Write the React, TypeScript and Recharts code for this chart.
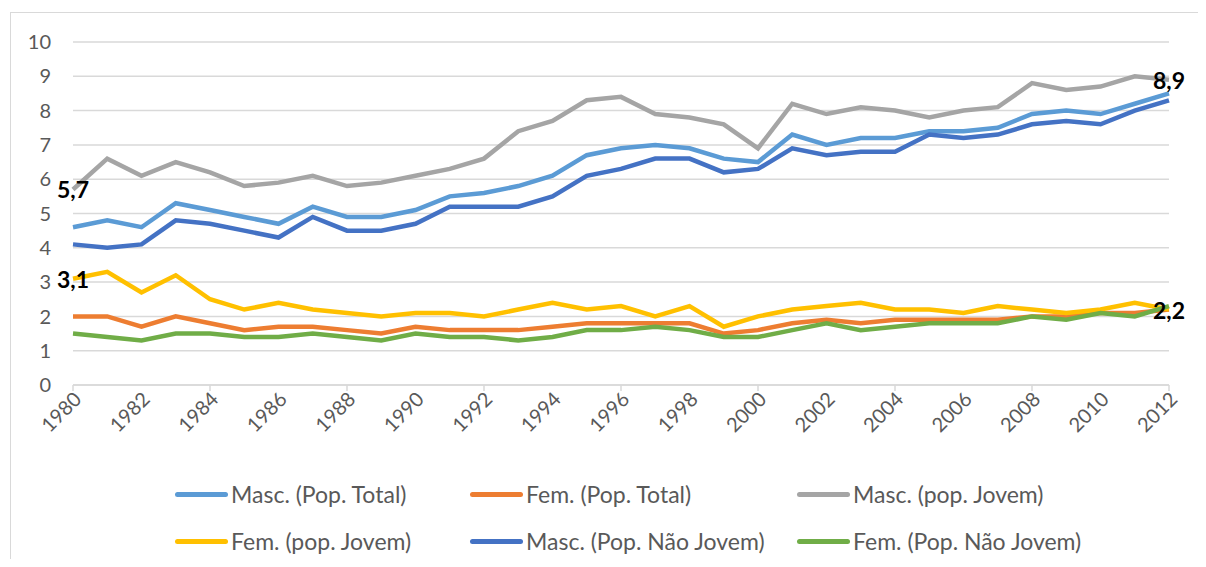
import React from "react";
import { LineChart, Line, XAxis, YAxis, CartesianGrid, Legend, LabelList } from "recharts";

const years = [
  1980, 1981, 1982, 1983, 1984, 1985, 1986, 1987, 1988, 1989,
  1990, 1991, 1992, 1993, 1994, 1995, 1996, 1997, 1998, 1999,
  2000, 2001, 2002, 2003, 2004, 2005, 2006, 2007, 2008, 2009,
  2010, 2011, 2012,
];

const mascTotal = [
  4.6, 4.8, 4.6, 5.3, 5.1, 4.9, 4.7, 5.2, 4.9, 4.9,
  5.1, 5.5, 5.6, 5.8, 6.1, 6.7, 6.9, 7.0, 6.9, 6.6,
  6.5, 7.3, 7.0, 7.2, 7.2, 7.4, 7.4, 7.5, 7.9, 8.0,
  7.9, 8.2, 8.5,
];
const femTotal = [
  2.0, 2.0, 1.7, 2.0, 1.8, 1.6, 1.7, 1.7, 1.6, 1.5,
  1.7, 1.6, 1.6, 1.6, 1.7, 1.8, 1.8, 1.8, 1.8, 1.5,
  1.6, 1.8, 1.9, 1.8, 1.9, 1.9, 1.9, 1.9, 2.0, 2.0,
  2.1, 2.1, 2.2,
];
const mascJovem = [
  5.7, 6.6, 6.1, 6.5, 6.2, 5.8, 5.9, 6.1, 5.8, 5.9,
  6.1, 6.3, 6.6, 7.4, 7.7, 8.3, 8.4, 7.9, 7.8, 7.6,
  6.9, 8.2, 7.9, 8.1, 8.0, 7.8, 8.0, 8.1, 8.8, 8.6,
  8.7, 9.0, 8.9,
];
const femJovem = [
  3.1, 3.3, 2.7, 3.2, 2.5, 2.2, 2.4, 2.2, 2.1, 2.0,
  2.1, 2.1, 2.0, 2.2, 2.4, 2.2, 2.3, 2.0, 2.3, 1.7,
  2.0, 2.2, 2.3, 2.4, 2.2, 2.2, 2.1, 2.3, 2.2, 2.1,
  2.2, 2.4, 2.2,
];
const mascNaoJovem = [
  4.1, 4.0, 4.1, 4.8, 4.7, 4.5, 4.3, 4.9, 4.5, 4.5,
  4.7, 5.2, 5.2, 5.2, 5.5, 6.1, 6.3, 6.6, 6.6, 6.2,
  6.3, 6.9, 6.7, 6.8, 6.8, 7.3, 7.2, 7.3, 7.6, 7.7,
  7.6, 8.0, 8.3,
];
const femNaoJovem = [
  1.5, 1.4, 1.3, 1.5, 1.5, 1.4, 1.4, 1.5, 1.4, 1.3,
  1.5, 1.4, 1.4, 1.3, 1.4, 1.6, 1.6, 1.7, 1.6, 1.4,
  1.4, 1.6, 1.8, 1.6, 1.7, 1.8, 1.8, 1.8, 2.0, 1.9,
  2.1, 2.0, 2.3,
];

const yTicks = [0, 1, 2, 3, 4, 5, 6, 7, 8, 9, 10];

const series = [
  { key: "mascTotal", name: "Masc. (Pop. Total)", color: "#5B9BD5" },
  { key: "femTotal", name: "Fem. (Pop. Total)", color: "#ED7D31" },
  { key: "mascJovem", name: "Masc. (pop. Jovem)", color: "#A5A5A5" },
  { key: "femJovem", name: "Fem. (pop. Jovem)", color: "#FFC000" },
  { key: "mascNaoJovem", name: "Masc. (Pop. Não Jovem)", color: "#4472C4" },
  { key: "femNaoJovem", name: "Fem. (Pop. Não Jovem)", color: "#70AD47" },
];

const data = years.map((year, i) => ({
  year,
  mascTotal: mascTotal[i],
  femTotal: femTotal[i],
  mascJovem: mascJovem[i],
  femJovem: femJovem[i],
  mascNaoJovem: mascNaoJovem[i],
  femNaoJovem: femNaoJovem[i],
}));

const FONT = "Lato, 'Open Sans', sans-serif";
const TEXT = "#595959";
const GRID = "#d9d9d9";

const XTick = (props: any) => {
  const { x, y, payload } = props;
  const yr = Number(payload.value);
  return (
    <g>
      {yr % 4 === 0 && (
        <line x1={x} x2={x} y1={y - 8} y2={y - 2} stroke={GRID} strokeWidth={1.5} />
      )}
      {yr % 2 === 0 && (
        <text
          transform={`translate(${x + 4},${y + 2}) rotate(-45)`}
          textAnchor="end"
          dominantBaseline="central"
          fill={TEXT}
          fontSize={20}
          fontFamily={FONT}
        >
          {yr}
        </text>
      )}
    </g>
  );
};

// only first and last points get a label
const EndLabel = (props: any) => {
  const { x, y, value, index } = props;
  if (index !== 0 && index !== years.length - 1) return null;
  return (
    <text
      x={x}
      y={y}
      textAnchor="middle"
      dominantBaseline="central"
      fontSize={23}
      fontWeight={700}
      fontFamily={FONT}
      fill="#000"
    >
      {String(value).replace(".", ",")}
    </text>
  );
};

const legendPos = [
  { left: 167, top: 20 },
  { left: 462, top: 20 },
  { left: 789, top: 20 },
  { left: 167, top: 67 },
  { left: 462, top: 67 },
  { left: 789, top: 67 },
];

const renderLegend = () => (
  <div style={{ position: "relative", width: 1190, height: 90 }}>
    {series.map((s, i) => (
      <div
        key={s.key}
        style={{
          position: "absolute",
          left: legendPos[i].left,
          top: legendPos[i].top,
          transform: "translateY(-50%)",
          display: "flex",
          alignItems: "center",
          whiteSpace: "nowrap",
        }}
      >
        <span
          style={{
            display: "inline-block",
            width: 53,
            height: 5,
            borderRadius: 3,
            background: s.color,
            marginRight: 3,
          }}
        />
        <span style={{ fontFamily: FONT, fontSize: 23, color: TEXT }}>{s.name}</span>
      </div>
    ))}
  </div>
);

export default function App() {
  return (
    <div style={{ position: "relative", width: 1198, height: 551, overflow: "hidden" }}>
      <div
        style={{
          position: "absolute",
          left: 2,
          top: 4,
          right: 0,
          bottom: 0,
          borderLeft: `1px solid ${GRID}`,
          borderTop: `1px solid ${GRID}`,
        }}
      />
      <LineChart
        width={1190}
        height={551}
        data={data}
        margin={{ top: 34, right: 29, left: 0, bottom: 0 }}
      >
        <CartesianGrid vertical={false} stroke={GRID} strokeWidth={1.5} />
        <XAxis
          dataKey="year"
          interval={0}
          height={174}
          tickLine={false}
          axisLine={{ stroke: GRID, strokeWidth: 1.5 }}
          tick={<XTick />}
        />
        <YAxis
          domain={[0, 10]}
          ticks={yTicks}
          width={65}
          axisLine={false}
          tickLine={false}
          tickSize={0}
          tickMargin={22}
          tick={{ fill: TEXT, fontSize: 20, fontFamily: FONT }}
        />
        <Legend
          layout="horizontal"
          verticalAlign="middle"
          content={renderLegend}
          wrapperStyle={{ top: 466, left: 0, width: 1190, height: 90 }}
        />
        {series.map((s) => (
          <Line
            key={s.key}
            type="linear"
            dataKey={s.key}
            name={s.name}
            stroke={s.color}
            strokeWidth={4.5}
            dot={false}
            activeDot={false}
            isAnimationActive={false}
          />
        ))}
        {/* label carriers drawn last so the values sit above every line */}
        <Line
          dataKey="mascJovem"
          stroke="none"
          dot={false}
          activeDot={false}
          legendType="none"
          isAnimationActive={false}
        >
          <LabelList dataKey="mascJovem" content={<EndLabel />} />
        </Line>
        <Line
          dataKey="femJovem"
          stroke="none"
          dot={false}
          activeDot={false}
          legendType="none"
          isAnimationActive={false}
        >
          <LabelList dataKey="femJovem" content={<EndLabel />} />
        </Line>
      </LineChart>
    </div>
  );
}
